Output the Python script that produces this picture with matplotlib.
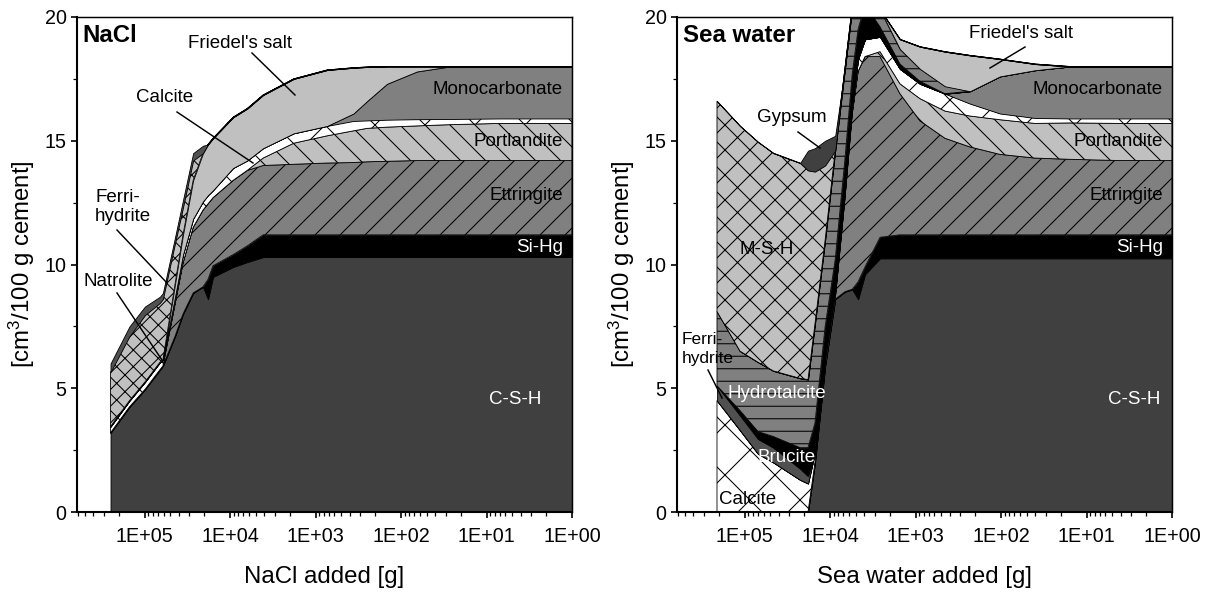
import numpy as np
import matplotlib
matplotlib.use("Agg")
import matplotlib.pyplot as plt
from matplotlib.ticker import LogLocator, FuncFormatter, MultipleLocator, NullFormatter

plt.rcParams['font.family'] = ['Liberation Sans', 'DejaVu Sans']
plt.rcParams['mathtext.default'] = 'regular'
plt.rcParams['hatch.linewidth'] = 0.5

# ---------------- data: NaCl panel (volumes in cm3/100 g cement) ----------------
nacl_added = [2.5e5, 1.5e5, 9.9e4, 6.6e4, 6.1e4, 4.4e4, 3.55e4, 2.7e4, 2.07e4, 1.81e4,
              1.58e4, 9.2e3, 6.3e3, 4.1e3, 1.8e3, 730, 360, 250, 146, 65, 27, 7, 1]
nacl_csh = [3.2, 4.25, 4.95, 5.75, 5.9, 7.1, 8.0, 8.85, 9.1, 8.6, 9.5, 9.9, 10.1,
            10.3, 10.3, 10.3, 10.3, 10.3, 10.3, 10.3, 10.3, 10.3, 10.3]
nacl_sihg = [0, 0, 0, 0, 0, 0, 0, 0, 0, 0.8, 0.45, 0.5, 0.65,
             0.9, 0.9, 0.9, 0.9, 0.9, 0.9, 0.9, 0.9, 0.9, 0.9]
nacl_ett = [0, 0, 0, 0, 0, 1.3, 2.06, 2.65, 3.1, 3.05, 2.75, 3.0, 3.05,
            2.8, 2.85, 2.9, 2.92, 2.95, 2.97, 3.0, 3.0, 3.0, 3.0]
nacl_port = [0, 0, 0, 0, 0, 0, 0, 0, 0, 0, 0, 0, 0,
             0.3, 0.85, 1.1, 1.28, 1.35, 1.38, 1.4, 1.45, 1.5, 1.5]
nacl_calc = [0.25, 0.25, 0.3, 0.3, 0.25, 0.3, 0.34, 0.35, 0.35, 0.35, 0.3, 0.5, 0.4,
             0.4, 0.4, 0.4, 0.4, 0.32, 0.3, 0.27, 0.23, 0.2, 0.2]
nacl_mono = [0, 0, 0, 0, 0, 0, 0, 0, 0, 0, 0, 0, 0,
             0, 0, 0, 0.3, 0.78, 1.45, 1.93, 2.12, 2.1, 2.1]
nacl_fried = [0, 0, 0, 0, 0, 0.5, 0.8, 1.55, 1.95, 2.05, 2.1, 2.05, 2.1,
              2.15, 2.2, 2.26, 1.85, 1.38, 0.7, 0.2, 0, 0, 0]
nacl_natro = [2.2, 2.6, 2.7, 2.4, 2.45, 1.65, 1.1, 0.8, 0, 0, 0, 0, 0,
              0, 0, 0, 0, 0, 0, 0, 0, 0, 0]
nacl_ferri = [0.35, 0.4, 0.35, 0.25, 0.25, 0.25, 0.3, 0.3, 0.3, 0, 0, 0, 0,
              0, 0, 0, 0, 0, 0, 0, 0, 0, 0]

# ---------------- data: sea water panel ----------------
sea_added = [2.1e5, 1.13e5, 6.95e4, 4.6e4, 2.24e4, 1.81e4, 1.5e4, 1.14e4, 8.7e3, 6.7e3, 5.5e3,
             4.7e3, 3.9e3, 2.6e3, 1.52e3, 885, 452, 231, 103, 40, 15.6, 4.06, 1]
sea_csh = [0, 0, 0, 0, 0, 0, 2.0, 5.9, 8.6, 8.9, 9.0, 8.6,
           9.6, 10.25, 10.25, 10.25, 10.25, 10.25, 10.25, 10.25, 10.25, 10.25, 10.25]
sea_sihg = [0, 0, 0, 0, 0, 0, 0, 0, 0, 0, 0, 0.7,
            0.3, 0.85, 0.95, 0.95, 0.95, 0.95, 0.95, 0.95, 0.95, 0.95, 0.95]
sea_ett = [0, 0, 0, 0, 0, 0, 0, 0, 0, 3.75, 7.1, 8.5,
           8.5, 7.3, 5.7, 4.6, 3.9, 3.55, 3.25, 3.1, 3.05, 3.0, 3.0]
sea_port = [0, 0, 0, 0, 0, 0, 0, 0, 0, 0, 0, 0,
            0, 0.2, 0.4, 0.9, 1.1, 1.25, 1.4, 1.4, 1.47, 1.5, 1.5]
sea_calc = [4.5, 3.3, 2.35, 2.0, 1.3, 1.15, 0.4, 0.4, 0.4, 0.4, 0.4, 0.5,
            0.7, 0.6, 0.6, 0.6, 0.7, 0.5, 0.25, 0.22, 0.18, 0.2, 0.2]
sea_mono = [0, 0, 0, 0, 0, 0, 0, 0, 0, 0, 0, 0,
            0, 0, 0, 0, 0, 0.5, 1.5, 1.93, 2.1, 2.1, 2.1]
sea_ferri = [0.6, 0.6, 0.6, 0.6, 0.45, 0.3, 0, 0, 0, 0, 0, 0,
             0, 0, 0, 0, 0, 0, 0, 0, 0, 0, 0]
sea_bruc = [0, 0.2, 0.3, 0.45, 0.85, 1.15, 1.2, 1.2, 1.2, 1.2, 1.2, 1.2,
            1.4, 0.4, 0.2, 0.1, 0, 0, 0, 0, 0, 0, 0]
sea_hydro = [3.0, 2.4, 2.8, 2.65, 2.8, 2.75, 4.0, 3.5, 4.4, 3.65, 2.7, 2.5,
             1.5, 0.7, 0.6, 0.5, 0.3, 0, 0, 0, 0, 0, 0]
sea_fried = [0, 0, 0, 0, 0, 0, 0, 0, 0, 0, 0, 0,
             0, 0, 0.4, 0.9, 1.4, 1.45, 0.7, 0.25, 0, 0, 0]
sea_msh = [8.5, 9.1, 8.9, 8.8, 8.7, 8.45, 6.15, 3.0, 0, 0, 0, 0,
           0, 0, 0, 0, 0, 0, 0, 0, 0, 0, 0]
sea_gyps = [0, 0, 0, 0, 0, 0.8, 0.95, 1.0, 0.6, 0, 0, 0,
            0, 0, 0, 0, 0, 0, 0, 0, 0, 0, 0]

# ---------------- styles ----------------
STY = {
    'C-S-H': dict(fc='#404040'),
    'Si-Hg': dict(fc='#000000'),
    'Ettringite': dict(fc='#808080', hatch='//'),
    'Portlandite': dict(fc='#c0c0c0', hatch='\\\\'),
    'Calcite': dict(fc='#ffffff', hatch='x'),
    'Monocarbonate': dict(fc='#808080'),
    "Friedel's salt": dict(fc='#c0c0c0'),
    'Natrolite': dict(fc='#c0c0c0', hatch='xxx'),
    'Ferrihydrite': dict(fc='#505050'),
    'Brucite': dict(fc='#000000'),
    'Hydrotalcite': dict(fc='#808080', hatch='--'),
    'M-S-H': dict(fc='#c0c0c0', hatch='xx'),
    'Gypsum': dict(fc='#404040'),
}

nacl_layers = [('C-S-H', nacl_csh), ('Si-Hg', nacl_sihg), ('Ettringite', nacl_ett),
               ('Portlandite', nacl_port), ('Calcite', nacl_calc), ('Monocarbonate', nacl_mono),
               ("Friedel's salt", nacl_fried), ('Natrolite', nacl_natro), ('Ferrihydrite', nacl_ferri)]
sea_layers = [('C-S-H', sea_csh), ('Si-Hg', sea_sihg), ('Ettringite', sea_ett),
              ('Portlandite', sea_port), ('Calcite', sea_calc), ('Monocarbonate', sea_mono),
              ('Ferrihydrite', sea_ferri), ('Brucite', sea_bruc), ('Hydrotalcite', sea_hydro),
              ("Friedel's salt", sea_fried), ('M-S-H', sea_msh), ('Gypsum', sea_gyps)]

W, H, DPI = 1211, 599, 150
fig = plt.figure(figsize=(W / DPI, H / DPI), dpi=DPI)
ax1 = fig.add_axes([77 / W, 1 - 512 / H, 495 / W, 495 / H])
ax2 = fig.add_axes([677 / W, 1 - 512 / H, 495 / W, 495 / H])


def draw(ax, x, layers):
    x = np.asarray(x, float)
    base = np.zeros_like(x)
    for name, vals in layers:
        top = base + np.asarray(vals, float)
        s = STY[name]
        ax.fill_between(x, base, top, facecolor=s['fc'], edgecolor='black',
                        hatch=s.get('hatch'), linewidth=0.4)
        base = top


def fmt(v, p):
    return '1E+%02d' % int(round(np.log10(v)))


for ax, x, layers in [(ax1, nacl_added, nacl_layers), (ax2, sea_added, sea_layers)]:
    draw(ax, x, layers)
    ax.set_xscale('log')
    ax.set_xlim(10 ** 5.79, 1)
    ax.set_ylim(0, 20)
    ax.xaxis.set_major_locator(LogLocator(base=10, numticks=10))
    ax.xaxis.set_minor_locator(LogLocator(base=10, subs=np.arange(2, 10), numticks=20))
    ax.xaxis.set_major_formatter(FuncFormatter(fmt))
    ax.xaxis.set_minor_formatter(NullFormatter())
    ax.yaxis.set_major_locator(MultipleLocator(5))
    ax.yaxis.set_minor_locator(MultipleLocator(2.5))
    ax.tick_params(which='major', direction='out', length=3, width=0.8, labelsize=9.5, pad=2)
    ax.tick_params(which='minor', direction='out', length=1.8, width=0.6)
    ax.tick_params(axis='x', which='major', pad=4)
    for sp in ['left', 'bottom']:
        ax.spines[sp].set_linewidth(1.0)
    for sp in ['top', 'right']:
        ax.spines[sp].set_linewidth(0.7)
    for sp in ax.spines.values():
        sp.set_zorder(5)


def fx(px, left):
    return (px - left) / 495.0


def fy(py):
    return (512 - py) / 495.0


FS = 9


def label(ax, left, px, py, s, ha='center', color='black', size=FS, **kw):
    ax.text(fx(px, left), fy(py), s, transform=ax.transAxes, ha=ha, va='center',
            color=color, fontsize=size, zorder=10, **kw)


def leader(ax, left, p0, p1):
    ax.plot([fx(p0[0], left), fx(p1[0], left)], [fy(p0[1]), fy(p1[1])],
            transform=ax.transAxes, color='black', lw=0.7, zorder=10, clip_on=False)


# ---- left panel annotations ----
L = 77
label(ax1, L, 82, 36, 'NaCl', ha='left', size=11.5, fontweight='bold')
label(ax1, L, 240, 44, "Friedel's salt")
leader(ax1, L, (252, 53), (295, 95))
label(ax1, L, 165, 97, 'Calcite')
leader(ax1, L, (177, 112), (253, 163))
label(ax1, L, 95, 207, 'Ferri-\nhydrite', ha='left', linespacing=1.15)
leader(ax1, L, (117, 230), (167, 283))
label(ax1, L, 118, 281, 'Natrolite')
leader(ax1, L, (117, 293), (162, 360))
label(ax1, L, 563, 90, 'Monocarbonate', ha='right')
label(ax1, L, 563, 142, 'Portlandite', ha='right')
label(ax1, L, 563, 196, 'Ettringite', ha='right')
label(ax1, L, 563, 247, 'Si-Hg', ha='right', color='white')
label(ax1, L, 541, 400, 'C-S-H', ha='right', color='white')

# ---- right panel annotations ----
R = 677
label(ax2, R, 683, 36, 'Sea water', ha='left', size=11.5, fontweight='bold')
label(ax2, R, 1021, 34, "Friedel's salt")
leader(ax2, R, (1025, 47), (990, 68))
label(ax2, R, 792, 117, 'Gypsum')
leader(ax2, R, (798, 132), (820, 148))
label(ax2, R, 767, 250, 'M-S-H')
label(ax2, R, 682, 349, 'Ferri-\nhydrite', ha='left', size=8.3, linespacing=1.3)
leader(ax2, R, (708, 370), (722, 398))
label(ax2, R, 777, 393, 'Hydrotalcite', color='white')
label(ax2, R, 787, 457, 'Brucite', color='white')
label(ax2, R, 748, 500, 'Calcite')
label(ax2, R, 1163, 90, 'Monocarbonate', ha='right')
label(ax2, R, 1163, 142, 'Portlandite', ha='right')
label(ax2, R, 1163, 196, 'Ettringite', ha='right')
label(ax2, R, 1163, 247, 'Si-Hg', ha='right', color='white')
label(ax2, R, 1160, 400, 'C-S-H', ha='right', color='white')

# axis titles
fig.text(324.5 / W, 1 - 577 / H, 'NaCl added [g]', ha='center', va='center', fontsize=11.5)
fig.text(924.5 / W, 1 - 577 / H, 'Sea water added [g]', ha='center', va='center', fontsize=11.5)
fig.text(22 / W, 1 - 264.5 / H, '[cm$^3$/100 g cement]', ha='center', va='center',
         rotation=90, fontsize=11.5)
fig.text(622 / W, 1 - 264.5 / H, '[cm$^3$/100 g cement]', ha='center', va='center',
         rotation=90, fontsize=11.5)

fig.savefig('out.png', dpi=DPI)
